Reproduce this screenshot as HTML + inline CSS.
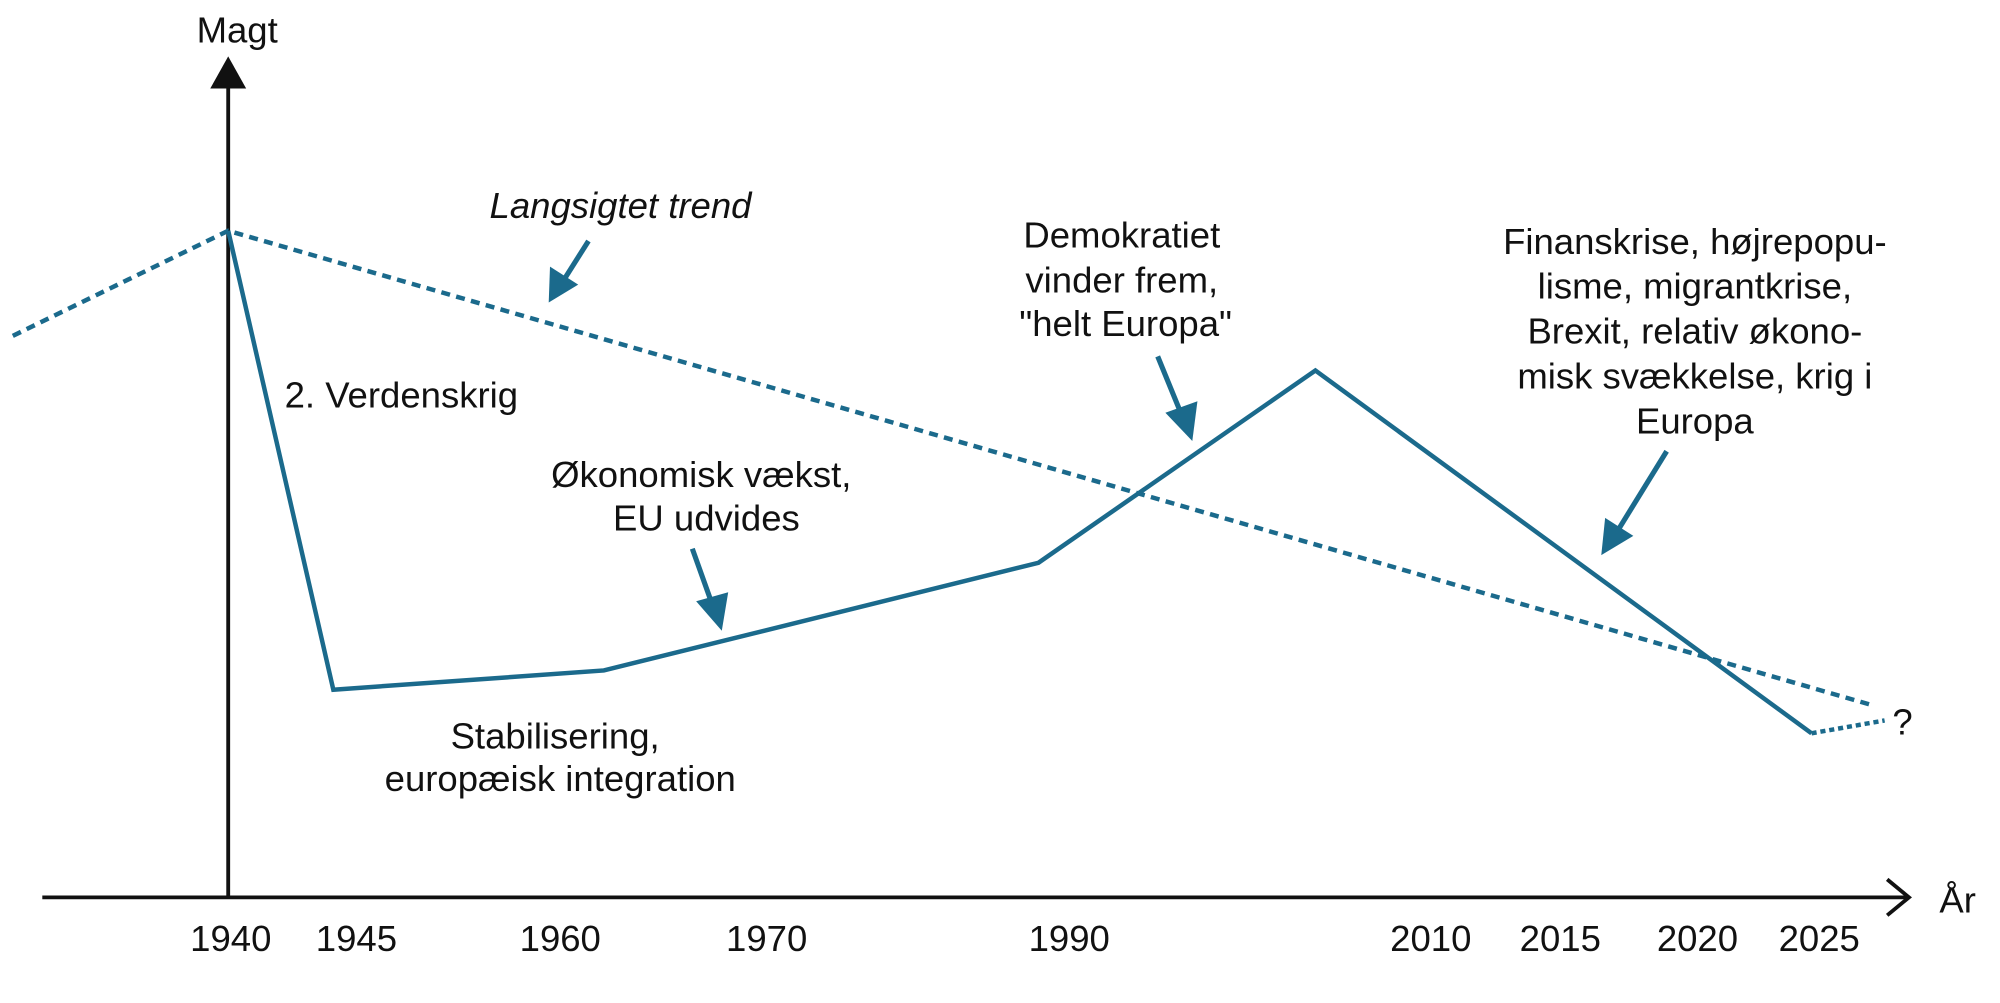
<!DOCTYPE html>
<html><head><meta charset="utf-8"><style>
html,body{margin:0;padding:0;background:#fff;}
svg{display:block;}
text{font-family:"Liberation Sans",sans-serif;font-size:28.5px;fill:#111;}
</style></head><body>
<svg width="2000" height="1003" viewBox="0 0 1560 782.4" preserveAspectRatio="none">
<line x1="178" y1="700" x2="178" y2="62" stroke="#111" stroke-width="3"/>
<polygon points="178,44 164,69 192,69" fill="#111"/>
<line x1="33" y1="700" x2="1488" y2="700" stroke="#111" stroke-width="3"/>
<polyline points="1472,686 1489,700 1472,714" fill="none" stroke="#111" stroke-width="3"/>
<text x="185" y="33" text-anchor="middle">Magt</text>
<text x="1527" y="712" text-anchor="middle">År</text>
<g text-anchor="middle">
<text x="180" y="742">1940</text><text x="278" y="742">1945</text><text x="437" y="742">1960</text>
<text x="598" y="742">1970</text><text x="834" y="742">1990</text><text x="1116" y="742">2010</text>
<text x="1217" y="742">2015</text><text x="1324" y="742">2020</text><text x="1419" y="742">2025</text>
</g>
<polyline points="10,262 178,180 1460,550" fill="none" stroke="#1b6a8c" stroke-width="3.5" stroke-dasharray="7,5"/>
<polyline points="178,180 260,538 471,523 810,439 1026,289 1413,572" fill="none" stroke="#1b6a8c" stroke-width="3.5"/>
<line x1="1413" y1="572" x2="1470" y2="562" stroke="#1b6a8c" stroke-width="3.5" stroke-dasharray="4,3"/>
<text x="1484" y="573" text-anchor="middle">?</text>
<g stroke="#1b6a8c" stroke-width="4" fill="#1b6a8c">
<line x1="459" y1="188" x2="440" y2="218"/>
<polygon points="428,236 429,208 451,222" stroke="none"/>
<line x1="903" y1="278" x2="921" y2="322"/>
<polygon points="930,344 909,322 934,313" stroke="none"/>
<line x1="540" y1="428" x2="555" y2="470"/>
<polygon points="563,492 543,469 568,462" stroke="none"/>
<line x1="1300" y1="352" x2="1263" y2="412"/>
<polygon points="1249,433 1252,404 1274,418" stroke="none"/>
</g>
<text x="484" y="170" text-anchor="middle" font-style="italic">Langsigtet trend</text>
<g text-anchor="middle">
<text x="875" y="193">Demokratiet</text>
<text x="875" y="228">vinder frem,</text>
<text x="878" y="262">"helt Europa"</text>
<text x="1322" y="198">Finanskrise, højrepopu-</text>
<text x="1322" y="233">lisme, migrantkrise,</text>
<text x="1322" y="268">Brexit, relativ økono-</text>
<text x="1322" y="303">misk svækkelse, krig i</text>
<text x="1322" y="338">Europa</text>
<text x="547" y="380">Økonomisk vækst,</text>
<text x="551" y="414">EU udvides</text>
<text x="433" y="584">Stabilisering,</text>
<text x="437" y="617">europæisk integration</text>
</g>
<text x="222" y="318">2. Verdenskrig</text>
</svg>
</body></html>
